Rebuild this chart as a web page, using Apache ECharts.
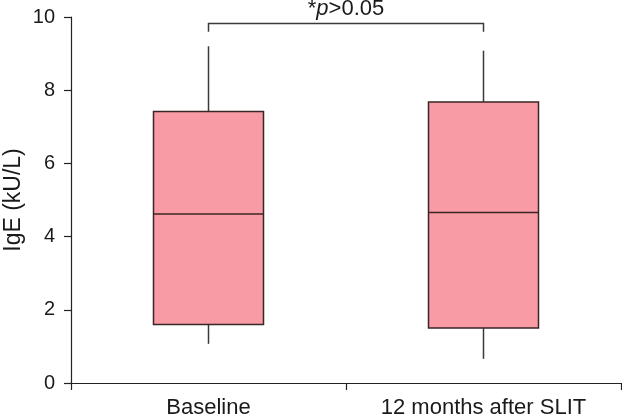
<!DOCTYPE html>
<html>
<head>
<meta charset="utf-8">
<script src="https://cdn.jsdelivr.net/npm/echarts@6/dist/echarts.min.js"></script>
<style>html,body{margin:0;padding:0;background:#fff}#c{width:622px;height:416px}</style>
</head>
<body>
<div id="c"></div>
<script>
var categories = ['Baseline', '12 months after SLIT'];
var whiskerLow = [1.07, 0.66];
var q1 = [1.60, 1.50];
var median = [4.62, 4.66];
var q3 = [7.42, 7.68];
var whiskerHigh = [9.20, 9.08];
var yTicks = [0, 2, 4, 6, 8, 10];
var bracketLevel = 9.82;
var bracketDrop = 9.60;
var annotationLevel = 10.22;

var FONT = 'Liberation Sans, Arial, sans-serif';
var boxData = categories.map(function (c, i) {
  return [i, whiskerLow[i], q1[i], median[i], q3[i], whiskerHigh[i]];
});

var chart = echarts.init(document.getElementById('c'));
chart.setOption({
  animation: false,
  backgroundColor: '#fff',
  grid: { left: 71, right: 1, top: 17, bottom: 33, containLabel: false, outerBoundsMode: 'none' },
  xAxis: {
    type: 'category',
    data: categories,
    boundaryGap: true,
    axisLine: { lineStyle: { color: '#222', width: 1.2 } },
    axisTick: { show: true, length: 7, alignWithLabel: false, lineStyle: { color: '#222', width: 1.2 } },
    axisLabel: { color: '#1a1a1a', fontSize: 22, fontFamily: FONT, margin: 14 }
  },
  yAxis: {
    type: 'value',
    min: 0, max: 10, interval: 2,
    name: 'IgE (kU/L)',
    nameLocation: 'middle',
    nameGap: 46,
    nameMoveOverlap: false,
    nameTextStyle: { color: '#1a1a1a', fontSize: 23, fontFamily: FONT },
    axisLine: { show: true, lineStyle: { color: '#222', width: 1.2 } },
    axisTick: { show: true, length: 7, lineStyle: { color: '#222', width: 1.2 } },
    axisLabel: { color: '#1a1a1a', fontSize: 20, fontFamily: FONT, margin: 16,
      formatter: function (v) { return yTicks.indexOf(v) >= 0 ? String(v) : ''; } },
    splitLine: { show: false }
  },
  series: [
    {
      type: 'custom',
      clip: false,
      data: boxData,
      encode: { x: 0, y: [1, 2, 3, 4, 5] },
      renderItem: function (params, api) {
        var idx = api.value(0);
        var pLow = api.coord([idx, api.value(1)]);
        var pQ1 = api.coord([idx, api.value(2)]);
        var pMed = api.coord([idx, api.value(3)]);
        var pQ3 = api.coord([idx, api.value(4)]);
        var pHigh = api.coord([idx, api.value(5)]);
        var bw = api.size([1, 0])[0] * 0.4;
        var x = pQ1[0];
        var lineStyle = { stroke: '#3a3a3a', lineWidth: 1.5 };
        return {
          type: 'group',
          children: [
            { type: 'line', shape: { x1: x, y1: pHigh[1], x2: x, y2: pQ3[1] }, style: lineStyle },
            { type: 'line', shape: { x1: x, y1: pQ1[1], x2: x, y2: pLow[1] }, style: lineStyle },
            { type: 'rect', shape: { x: x - bw / 2, y: pQ3[1], width: bw, height: pQ1[1] - pQ3[1] },
              style: { fill: '#F99BA5', stroke: '#3a2626', lineWidth: 1.5 } },
            { type: 'line', shape: { x1: x - bw / 2, y1: pMed[1], x2: x + bw / 2, y2: pMed[1] },
              style: { stroke: '#3a2626', lineWidth: 1.5 } }
          ]
        };
      }
    },
    {
      type: 'custom',
      clip: false,
      data: [[0, 1, bracketLevel, bracketDrop, annotationLevel]],
      renderItem: function (params, api) {
        var a = api.coord([api.value(0), api.value(2)]);
        var b = api.coord([api.value(1), api.value(2)]);
        var dropY = api.coord([api.value(0), api.value(3)])[1];
        var textY = api.coord([api.value(0), api.value(4)])[1];
        return {
          type: 'group',
          children: [
            { type: 'polyline', shape: { points: [[a[0], dropY], [a[0], a[1]], [b[0], b[1]], [b[0], dropY]] },
              style: { stroke: '#3a3a3a', lineWidth: 1.5, fill: null } },
            { type: 'text', x: (a[0] + b[0]) / 2, y: textY,
              style: {
                text: '{n|*}{i|p}{n|>0.05}',
                align: 'center', verticalAlign: 'middle',
                rich: {
                  n: { fontSize: 22, fontFamily: FONT, fill: '#1a1a1a' },
                  i: { fontSize: 22, fontFamily: FONT, fontStyle: 'italic', fill: '#1a1a1a' }
                }
              } }
          ]
        };
      }
    }
  ]
});
</script>
</body>
</html>
